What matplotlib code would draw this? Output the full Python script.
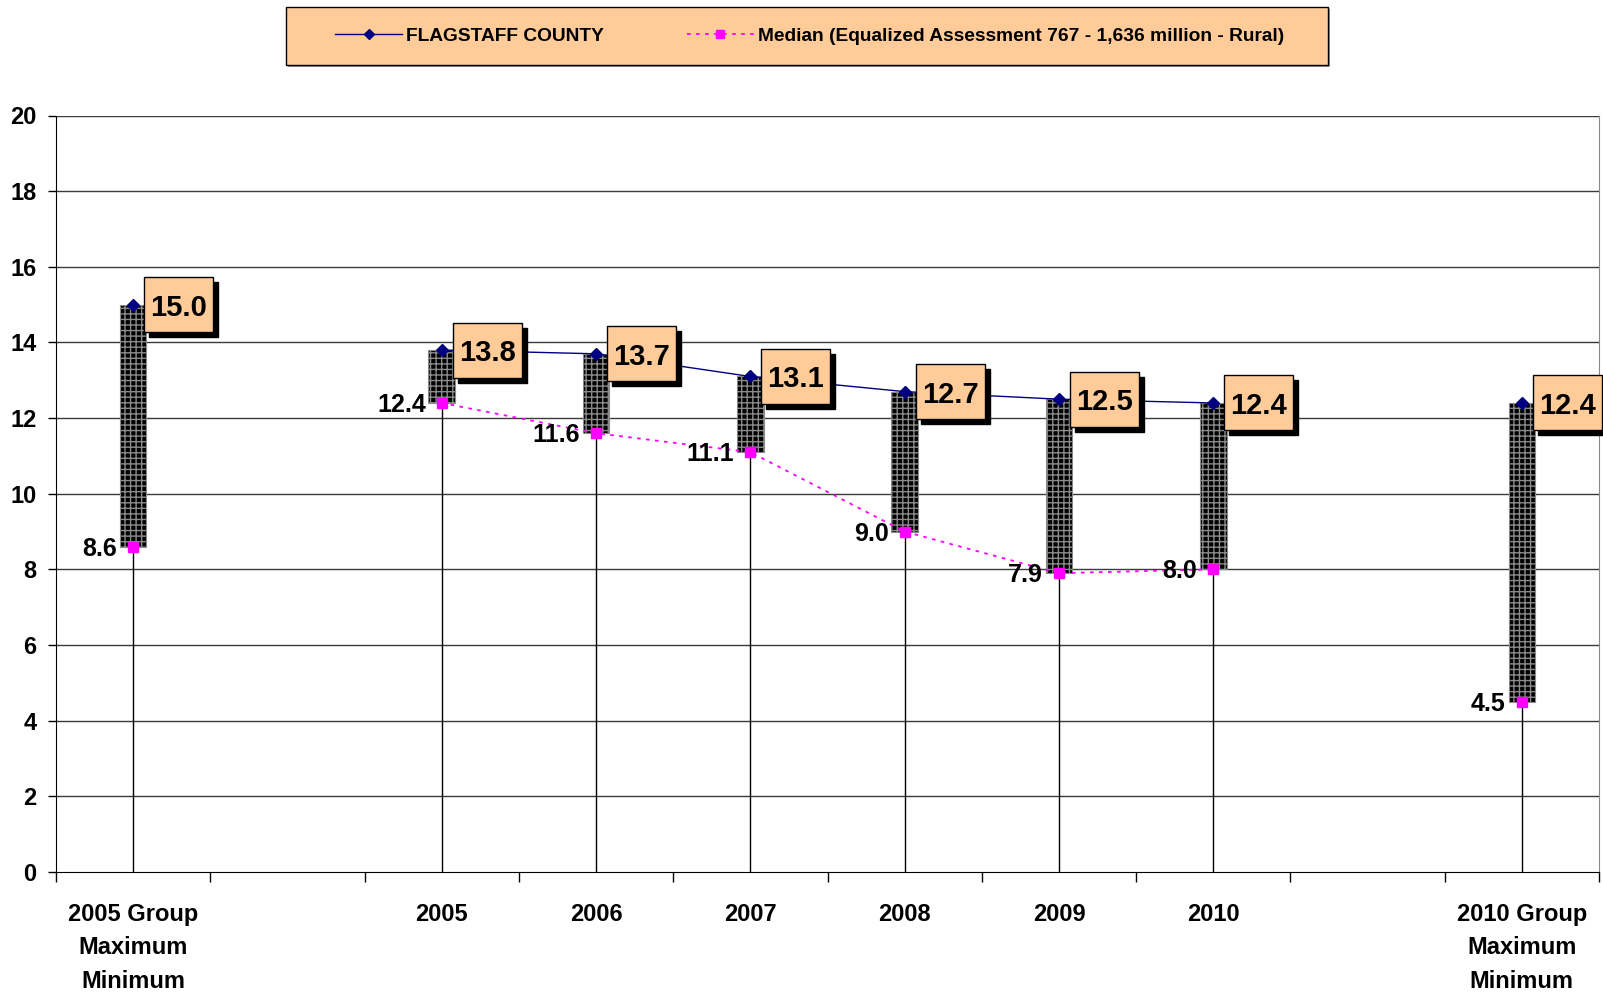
import numpy as np
import matplotlib
matplotlib.use('Agg')
import matplotlib.pyplot as plt
from matplotlib.lines import Line2D
from matplotlib.patches import Rectangle

plt.rcParams['font.family'] = ['Liberation Sans', 'DejaVu Sans']
plt.rcParams['font.weight'] = 'bold'

# Datos
categorias = ['2005 Group\nMaximum\nMinimum', '', '2005', '2006', '2007', '2008',
              '2009', '2010', '', '2010 Group\nMaximum\nMinimum']
condado = [15.0, np.nan, 13.8, 13.7, 13.1, 12.7, 12.5, 12.4, np.nan, 12.4]
mediana = [8.6, np.nan, 12.4, 11.6, 11.1, 9.0, 7.9, 8.0, np.nan, 4.5]
y_ticks = [0, 2, 4, 6, 8, 10, 12, 14, 16, 18, 20]

nombre_condado = 'FLAGSTAFF COUNTY'
nombre_mediana = 'Median (Equalized Assessment 767 - 1,636 million - Rural)'

condado = np.array(condado)
mediana = np.array(mediana)
x = np.arange(len(categorias))
validos = ~np.isnan(condado)

W, H = 1603, 992
fig = plt.figure(figsize=(W / 100, H / 100), dpi=100)
ax_px = [56, 115.5, 1599, 872]  # izquierda, arriba, derecha, abajo
ax = fig.add_axes([ax_px[0] / W, 1 - ax_px[3] / H, (ax_px[2] - ax_px[0]) / W,
                   (ax_px[3] - ax_px[1]) / H])
ax.set_xlim(-0.5, len(categorias) - 0.5)
ax.set_ylim(0, 20)

# pixeles por unidad de datos
px_x = (ax_px[2] - ax_px[0]) / (len(categorias))
px_y = (ax_px[3] - ax_px[1]) / 20.0

# Rejilla
for yv in y_ticks[1:]:
    ax.axhline(yv, color='#3a3a3a', lw=1.0, zorder=0)

# Lineas de caida
ax.vlines(x[validos], 0, mediana[validos], color='black', lw=1.0, zorder=1)

# Barras altas-bajas
ax.bar(x[validos], condado[validos] - mediana[validos], bottom=mediana[validos],
       width=0.172, facecolor='black', edgecolor='#8a8a8a', hatch='+++',
       linewidth=0.8, zorder=2)

# Series
ax.plot(x, condado, color='#000080', lw=1.0, marker='D', markersize=6,
        markerfacecolor='#000080', markeredgecolor='#000080', zorder=3)
ax.plot(x, mediana, color='#FF00FF', lw=1.3, ls=(0, (2, 3)), marker='s',
        markersize=7, markerfacecolor='#FF00FF', markeredgecolor='#FF00FF',
        zorder=3)

# Etiquetas de valores (cajas)
caja_w, caja_h, sep, sombra = 69 / px_x, 55 / px_y, 11 / px_x, 5
for xi, v in zip(x[validos], condado[validos]):
    x0 = xi + sep
    y0 = v - caja_h / 2
    ax.add_patch(Rectangle((x0 + sombra / px_x, y0 - sombra / px_y), caja_w, caja_h,
                           facecolor='black', edgecolor='black', lw=1,
                           zorder=5, clip_on=False))
    ax.add_patch(Rectangle((x0, y0), caja_w, caja_h, facecolor='#FFCC99',
                           edgecolor='black', lw=1, zorder=6, clip_on=False))
    ax.text(x0 + caja_w / 2, v, f'{v:.1f}', ha='center', va='center_baseline',
            fontsize=21, fontweight='bold', color='black', zorder=7, clip_on=False)

for xi, v in zip(x[validos], mediana[validos]):
    ax.annotate(f'{v:.1f}', (xi, v), xytext=(-16, -2), textcoords='offset pixels',
                ha='right', va='center', fontsize=18, fontweight='bold',
                color='black', annotation_clip=False, zorder=6)

# Ejes
ax.set_yticks(y_ticks)
ax.set_yticklabels([str(t) for t in y_ticks], fontsize=17, fontweight='bold')
ax.tick_params(axis='y', direction='out', length=6, width=1, pad=8)

ax.set_xticks(np.arange(-0.5, len(categorias)), minor=False)
ax.set_xticklabels([])
ax.tick_params(axis='x', which='major', direction='out', length=7, width=1)
ax.set_xticks(x, minor=True)
ax.set_xticklabels(categorias, minor=True, fontsize=17, fontweight='bold',
                   linespacing=1.6, va='top')
ax.tick_params(axis='x', which='minor', length=0, pad=22)

ax.spines['top'].set_visible(False)
ax.spines['right'].set_color('#8a8a8a')
ax.spines['left'].set_color('black')
ax.spines['bottom'].set_color('black')

# Leyenda
sombra_marco = Rectangle((288 / W, 1 - 67 / H), 1042 / W, 58 / H,
                         transform=fig.transFigure, facecolor='#9a9a9a',
                         edgecolor='none', zorder=0)
fig.patches.append(sombra_marco)
marco = Rectangle((286 / W, 1 - 65 / H), 1042 / W, 58 / H, transform=fig.transFigure,
                  facecolor='#FFCC99', edgecolor='black', lw=1.0, zorder=0)
fig.patches.append(marco)
handles = [
    Line2D([], [], color='#000080', lw=1.0, marker='D', markersize=5,
           markerfacecolor='#000080'),
    Line2D([], [], color='#FF00FF', lw=1.3, ls=(0, (2, 3)), marker='s',
           markersize=6, markerfacecolor='#FF00FF'),
]
leg = fig.legend(handles, [nombre_condado, nombre_mediana], ncol=2, mode='expand',
                 loc='center',
                 bbox_to_anchor=(335 / W, 1 - 65 / H, (1284 - 335) / W, 58 / H),
                 frameon=False,
                 prop={'family': ['Liberation Sans', 'DejaVu Sans'],
                       'weight': 'bold', 'size': 13.8},
                 handlelength=3.5, handletextpad=0.2, borderpad=0,
                 borderaxespad=0)

fig.savefig('out.png', dpi=100, facecolor='white')
